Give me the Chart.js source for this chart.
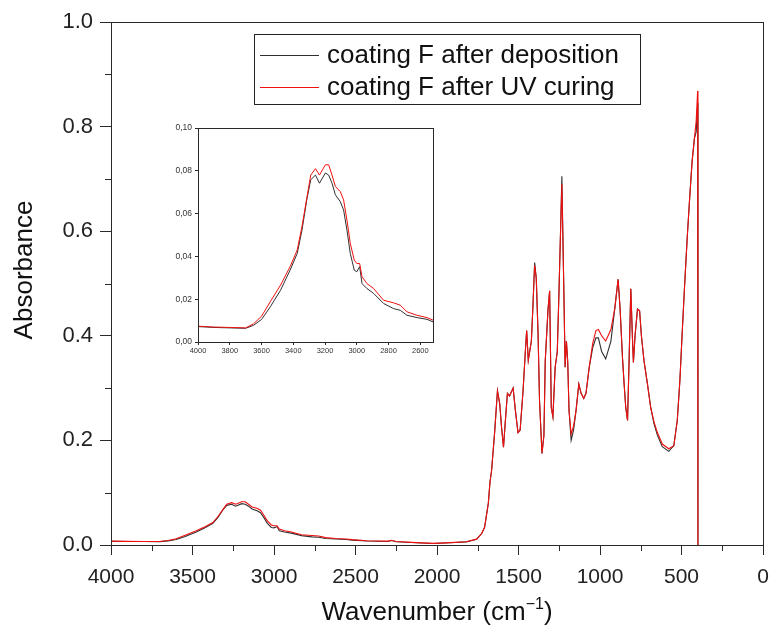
<!DOCTYPE html>
<html>
<head>
<meta charset="utf-8">
<script src="https://cdn.jsdelivr.net/npm/chart.js@4/dist/chart.umd.min.js"></script>
<style>
  body { margin: 0; background: #fff; }
  #wrap { position: relative; width: 769px; height: 630px; }
  #mainChart { position: absolute; left: 0; top: 0; }
  #insetChart { position: absolute; left: 160px; top: 118px; background: #fff; }
</style>
</head>
<body>
<div id="wrap">
  <canvas id="mainChart" width="769" height="630"></canvas>
  <canvas id="insetChart" width="280" height="244"></canvas>
</div>
<script>
// ── FTIR spectra, coating F ──
const seriesNames = ['coating F after deposition', 'coating F after UV curing'];

// wavenumber (cm-1)
const wavenumber = [
  4000, 3900, 3800, 3700, 3650, 3600, 3545, 3480, 3420, 3375, 3345, 3315, 3290, 3260, 3235, 3198, 3177, 3156, 3135, 3104,
  3083, 3062, 3041, 3016, 3000, 2982, 2967, 2936, 2894, 2831, 2768, 2726, 2684, 2621, 2558, 2520, 2430, 2300, 2280, 2250,
  2125, 2024, 1920, 1820, 1757, 1726, 1708, 1695, 1685, 1675, 1665, 1647, 1629, 1615, 1604, 1592, 1580, 1568, 1555, 1533,
  1519, 1503, 1490, 1472, 1458, 1450, 1440, 1421, 1411, 1401, 1391, 1380, 1371, 1356, 1344, 1336, 1319, 1309, 1299, 1289,
  1275, 1262, 1252, 1242, 1234, 1222, 1214, 1206, 1198, 1190, 1177, 1162, 1147, 1130, 1116, 1100, 1086, 1066, 1045, 1025,
  1010, 990, 965, 933, 909, 889, 877, 862, 852, 842, 831, 822, 811, 801, 795, 785, 770, 757, 746, 730,
  709, 689, 669, 648, 618, 578, 547, 526, 510, 496, 482, 465, 450, 435, 421, 410, 401, 399
];

const absDeposition = [
  0.0072, 0.0068, 0.0066, 0.0064, 0.0078, 0.0105, 0.0164, 0.0242, 0.0336, 0.0414, 0.0523, 0.0664, 0.0758, 0.0780, 0.0742, 0.0790, 0.0780, 0.0742, 0.0688, 0.0656,
  0.0617, 0.0523, 0.0414, 0.0336, 0.0328, 0.0352, 0.0273, 0.0250, 0.0227, 0.0180, 0.0156, 0.0148, 0.0125, 0.0114, 0.0106, 0.0094, 0.0076, 0.0068, 0.0085, 0.0063,
  0.0044, 0.0030, 0.0044, 0.0060, 0.0110, 0.022, 0.034, 0.060, 0.080, 0.120, 0.143, 0.213, 0.295, 0.270, 0.225, 0.187, 0.240, 0.290, 0.285, 0.300,
  0.257, 0.215, 0.220, 0.295, 0.370, 0.410, 0.353, 0.390, 0.460, 0.540, 0.510, 0.404, 0.276, 0.175, 0.210, 0.352, 0.450, 0.486, 0.263, 0.245,
  0.340, 0.370, 0.480, 0.600, 0.705, 0.490, 0.340, 0.390, 0.350, 0.257, 0.200, 0.220, 0.257, 0.308, 0.290, 0.280, 0.290, 0.340, 0.377, 0.396,
  0.396, 0.370, 0.356, 0.390, 0.453, 0.508, 0.453, 0.358, 0.308, 0.263, 0.238, 0.347, 0.490, 0.396, 0.349, 0.400, 0.451, 0.448, 0.400, 0.352,
  0.308, 0.263, 0.232, 0.210, 0.188, 0.179, 0.190, 0.238, 0.314, 0.404, 0.490, 0.587, 0.663, 0.733, 0.777, 0.790, 0.845, 0
];

const absUvCured = [
  0.0074, 0.0070, 0.0068, 0.0066, 0.0085, 0.0120, 0.0188, 0.0266, 0.0352, 0.0430, 0.0540, 0.0672, 0.0780, 0.0810, 0.0780, 0.0828, 0.0828, 0.0780, 0.0727, 0.0703,
  0.0664, 0.0570, 0.0461, 0.0383, 0.0367, 0.0367, 0.0305, 0.0273, 0.0250, 0.0195, 0.0183, 0.0172, 0.0141, 0.0125, 0.0114, 0.0102, 0.0080, 0.0075, 0.0090, 0.0066,
  0.0046, 0.0032, 0.0045, 0.0062, 0.0112, 0.022, 0.034, 0.060, 0.080, 0.120, 0.143, 0.213, 0.295, 0.270, 0.225, 0.187, 0.240, 0.290, 0.285, 0.300,
  0.257, 0.215, 0.220, 0.295, 0.370, 0.410, 0.353, 0.390, 0.460, 0.535, 0.510, 0.404, 0.276, 0.175, 0.210, 0.352, 0.450, 0.486, 0.263, 0.245,
  0.340, 0.370, 0.480, 0.600, 0.690, 0.490, 0.340, 0.390, 0.350, 0.257, 0.212, 0.228, 0.257, 0.308, 0.290, 0.280, 0.290, 0.340, 0.385, 0.410,
  0.412, 0.400, 0.390, 0.412, 0.453, 0.508, 0.453, 0.358, 0.308, 0.263, 0.238, 0.347, 0.490, 0.396, 0.349, 0.400, 0.451, 0.448, 0.400, 0.352,
  0.308, 0.263, 0.236, 0.215, 0.193, 0.184, 0.190, 0.238, 0.314, 0.404, 0.490, 0.587, 0.663, 0.733, 0.777, 0.810, 0.868, 0
];

// axis ticks
const xMajorTicks = [4000, 3500, 3000, 2500, 2000, 1500, 1000, 500, 0];
const xMinorTicks = [3750, 3250, 2750, 2250, 1750, 1250, 750, 250];
const yMinorTicks = [0.1, 0.3, 0.5, 0.7, 0.9];
const insetXTicks = [4000, 3800, 3600, 3400, 3200, 3000, 2800, 2600];

const FONT = '"Liberation Sans", Arial, sans-serif';
const AXIS = '#2a2a2a';
const BLACK = '#303030';
const RED = '#f01010';

const toPoints = arr => wavenumber.map((w, i) => ({ x: w, y: arr[i] }));

function makeDatasets(width) {
  return [
    { label: seriesNames[0], data: toPoints(absDeposition), borderColor: BLACK, borderWidth: width, order: 1 },
    { label: seriesNames[1], data: toPoints(absUvCured), borderColor: RED, borderWidth: width, order: 0 }
  ].map(d => Object.assign(d, { pointRadius: 0, tension: 0, fill: false, showLine: true }));
}

// frame round the plot + minor ticks
const frameTicks = {
  id: 'frameTicks',
  afterDraw(chart, args, o) {
    const { ctx, chartArea: a, scales: { x, y } } = chart;
    ctx.save();
    ctx.strokeStyle = AXIS;
    ctx.lineWidth = 1;
    ctx.strokeRect(a.left + 0.5, a.top + 0.5, a.right - a.left, a.bottom - a.top);
    ctx.beginPath();
    (o.xMinor || []).forEach(v => {
      const px = Math.round(x.getPixelForValue(v)) + 0.5;
      ctx.moveTo(px, a.bottom); ctx.lineTo(px, a.bottom + o.len);
    });
    (o.yMinor || []).forEach(v => {
      const py = Math.round(y.getPixelForValue(v)) + 0.5;
      ctx.moveTo(a.left, py); ctx.lineTo(a.left - o.len, py);
    });
    ctx.stroke();
    ctx.restore();
  }
};

// legend box + axis titles, main chart only
const decor = {
  id: 'decor',
  afterDraw(chart) {
    const { ctx } = chart;
    ctx.save();
    // legend
    ctx.fillStyle = '#fff';
    ctx.fillRect(254, 34, 386, 70);
    ctx.strokeStyle = '#222';
    ctx.lineWidth = 1;
    ctx.strokeRect(254.5, 34.5, 386, 70);
    const rows = [55, 87];
    [0, 1].forEach(i => {
      const ds = chart.data.datasets[i];
      ctx.strokeStyle = ds.borderColor;
      ctx.lineWidth = 1;
      ctx.beginPath();
      ctx.moveTo(260, rows[i] + 0.5); ctx.lineTo(319, rows[i] + 0.5);
      ctx.stroke();
      ctx.fillStyle = '#111';
      ctx.font = '26px ' + FONT;
      ctx.textBaseline = 'middle';
      ctx.textAlign = 'left';
      ctx.fillText(ds.label, 327, rows[i] + 1);
    });
    // y title
    ctx.fillStyle = '#111';
    ctx.font = '26px ' + FONT;
    ctx.translate(32, 270);
    ctx.rotate(-Math.PI / 2);
    ctx.textAlign = 'center';
    ctx.textBaseline = 'alphabetic';
    ctx.fillText('Absorbance', 0, 0);
    ctx.restore();

    // x title with superscript
    ctx.save();
    ctx.fillStyle = '#111';
    ctx.textBaseline = 'alphabetic';
    ctx.textAlign = 'left';
    const big = '26px ' + FONT, small = '16px ' + FONT;
    ctx.font = big;
    const w1 = ctx.measureText('Wavenumber (cm').width;
    const w3 = ctx.measureText(')').width;
    ctx.font = small;
    const w2 = ctx.measureText('\u22121').width;
    let x0 = 437 - (w1 + w2 + w3) / 2;
    const base = 620;
    ctx.font = big;
    ctx.fillText('Wavenumber (cm', x0, base);
    ctx.font = small;
    ctx.fillText('\u22121', x0 + w1, base - 11);
    ctx.font = big;
    ctx.fillText(')', x0 + w1 + w2, base);
    ctx.restore();
  }
};

new Chart(document.getElementById('mainChart'), {
  type: 'scatter',
  data: { datasets: makeDatasets(1.1) },
  plugins: [frameTicks, decor],
  options: {
    responsive: false,
    animation: false,
    devicePixelRatio: 1,
    layout: { autoPadding: false, padding: { top: 22, right: 6, left: 0, bottom: 0 } },
    plugins: {
      legend: { display: false },
      tooltip: { enabled: false },
      frameTicks: { xMinor: xMinorTicks, yMinor: yMinorTicks, len: 6 }
    },
    scales: {
      x: {
        type: 'linear', reverse: true, min: 0, max: 4000,
        afterFit: s => { s.height = 85; s.paddingLeft = 0; s.paddingRight = 0; },
        afterBuildTicks: s => { s.ticks = xMajorTicks.map(v => ({ value: v })); },
        grid: { drawOnChartArea: false, drawTicks: true, tickLength: 10, color: AXIS },
        border: { display: true, color: AXIS, width: 1 },
        ticks: { color: '#222', font: { family: FONT, size: 21 }, padding: 10, maxRotation: 0, callback: v => String(v) }
      },
      y: {
        type: 'linear', min: 0, max: 1.0,
        afterFit: s => { s.width = 111; s.paddingTop = 0; s.paddingBottom = 0; },
        ticks: { stepSize: 0.2, color: '#222', font: { family: FONT, size: 22 }, padding: 7, callback: v => v.toFixed(1) },
        grid: { drawOnChartArea: false, drawTicks: true, tickLength: 11, color: AXIS },
        border: { display: true, color: AXIS, width: 1 }
      }
    }
  }
});

// inset: O-H / C-H stretching region
new Chart(document.getElementById('insetChart'), {
  type: 'scatter',
  data: { datasets: makeDatasets(1) },
  plugins: [frameTicks],
  options: {
    responsive: false,
    animation: false,
    devicePixelRatio: 1,
    layout: { autoPadding: false, padding: { top: 10, right: 7, left: 0, bottom: 0 } },
    plugins: {
      legend: { display: false },
      tooltip: { enabled: false },
      frameTicks: { len: 0 }
    },
    scales: {
      x: {
        type: 'linear', reverse: true, min: 2520, max: 4000,
        afterFit: s => { s.height = 20; s.paddingLeft = 0; s.paddingRight = 0; },
        afterBuildTicks: s => { s.ticks = insetXTicks.map(v => ({ value: v })); },
        grid: { drawOnChartArea: false, drawTicks: true, tickLength: 3, color: AXIS },
        border: { display: true, color: AXIS, width: 1 },
        ticks: { color: '#333', font: { family: FONT, size: 7.5 }, padding: 1, maxRotation: 0, callback: v => String(v) }
      },
      y: {
        type: 'linear', min: 0, max: 0.10,
        afterFit: s => { s.width = 38; s.paddingTop = 0; s.paddingBottom = 0; },
        ticks: { stepSize: 0.02, color: '#333', font: { family: FONT, size: 8.5 }, padding: 3, callback: v => v.toFixed(2).replace('.', ',') },
        grid: { drawOnChartArea: false, drawTicks: true, tickLength: 3, color: AXIS },
        border: { display: true, color: AXIS, width: 1 }
      }
    }
  }
});
</script>
</body>
</html>
